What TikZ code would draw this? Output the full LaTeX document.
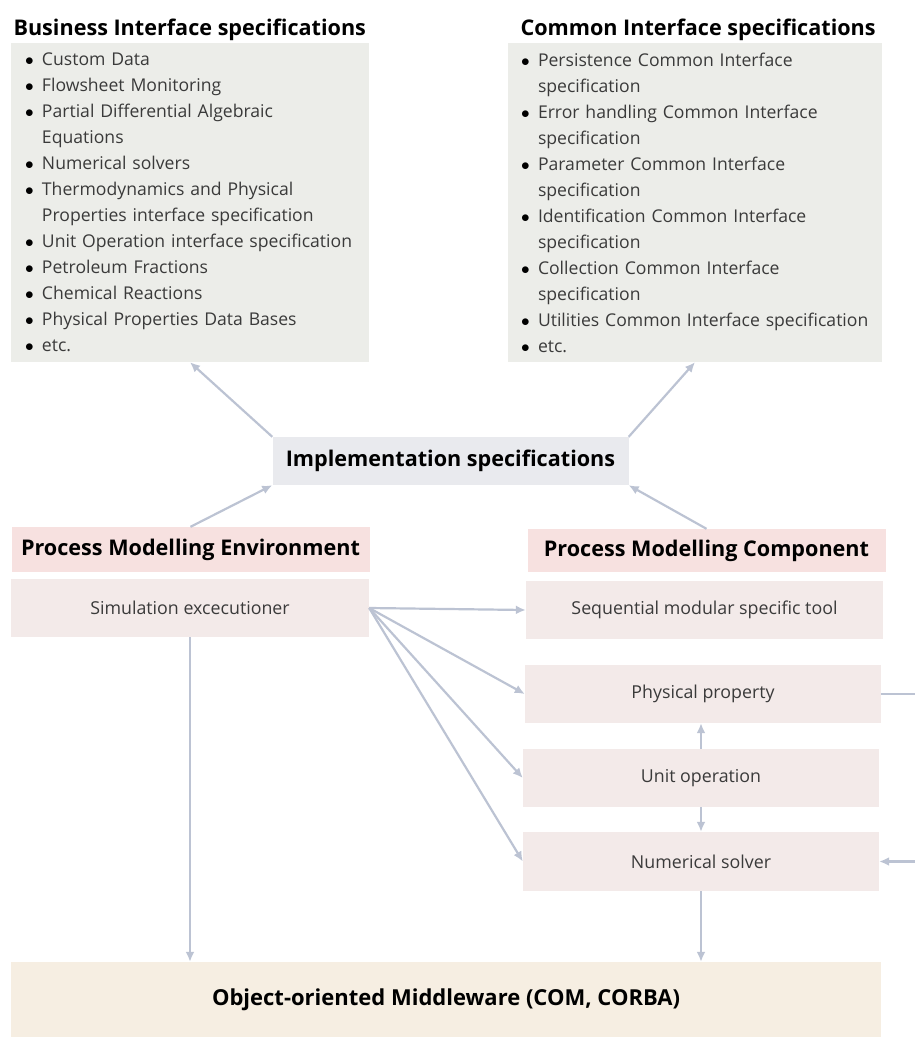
\documentclass[tikz,border=0pt]{standalone}
\usepackage{fontspec}
\setmainfont{Open Sans}
\usetikzlibrary{arrows.meta}

\definecolor{specfill}{HTML}{ECEDE9}
\definecolor{implfill}{HTML}{E9EAEE}
\definecolor{headfill}{HTML}{F7E1E0}
\definecolor{partfill}{HTML}{F3EAE9}
\definecolor{mwfill}{HTML}{F6EEE2}
\definecolor{linkcol}{HTML}{BCC3D3}
\definecolor{bodytxt}{HTML}{3A3A3A}

\newcommand{\bl}{\makebox[17pt][l]{\color{black}$\bullet$}}
\newcommand{\ind}{\hspace*{17pt}}

\begin{document}
\begin{tikzpicture}[x=1pt, y=-1pt,
    titletxt/.style={font=\fontsize{21.6}{26}\selectfont\bfseries, text=black},
    specbox/.style={fill=specfill, inner xsep=14pt, align=left, text=bodytxt,
      font=\fontsize{17.6}{26}\selectfont, minimum height=319pt},
    headbox/.style={fill=headfill, titletxt, minimum width=358pt},
    partbox/.style={fill=partfill, text=bodytxt, font=\fontsize{17.8}{22}\selectfont,
      minimum width=357pt, minimum height=58pt},
    link/.style={draw=linkcol, line width=2.2pt, -{Latex[length=10pt,width=9pt]}}]
      \useasboundingbox (0,0) rectangle (915,1037);

      % interface specifications
      \node[titletxt, anchor=base west] (bistitle) at (10,35) {Business Interface specifications};
      \node[titletxt, anchor=base west] (cistitle) at (517,35) {Common Interface specifications};

      \node[specbox, text width=330pt] (bis) at (190,202.5) {%
        \bl Custom Data\\
        \bl Flowsheet Monitoring\\
        \bl Partial Differential Algebraic\\
        \ind Equations\\
        \bl Numerical solvers\\
        \bl Thermodynamics and Physical\\
        \ind Properties interface specification\\
        \bl Unit Operation interface specification\\
        \bl Petroleum Fractions\\
        \bl Chemical Reactions\\
        \bl Physical Properties Data Bases\\
        \bl etc.};
      \node[specbox, inner xsep=13pt, text width=348pt] (cis) at (695,202.5) {%
        \bl Persistence Common Interface\\
        \ind specification\\
        \bl Error handling Common Interface\\
        \ind specification\\
        \bl Parameter Common Interface\\
        \ind specification\\
        \bl Identification Common Interface\\
        \ind specification\\
        \bl Collection Common Interface\\
        \ind specification\\
        \bl Utilities Common Interface specification\\
        \bl etc.};

      \node[fill=implfill, titletxt, minimum width=356pt, minimum height=48pt] (impl) at (450.5,461) {Implementation specifications};

      % process modelling
      \node[headbox, minimum height=45pt] (pme) at (190.5,549.5) {Process Modelling Environment};
      \node[headbox, minimum height=43pt] (pmc) at (706.5,550.5) {Process Modelling Component};

      \node[partbox, minimum width=358pt] (sim) at (190,608) {Simulation excecutioner};
      \node[partbox] (seq) at (704.5,610) {Sequential modular specific tool};
      \node[partbox, minimum width=356pt] (phys) at (703,694) {Physical property};
      \node[partbox, minimum width=356pt] (unit) at (701,778) {Unit operation};
      \node[partbox, minimum width=356pt, minimum height=59pt] (num) at (701,861.5) {Numerical solver};

      \node[fill=mwfill, titletxt, font=\fontsize{22}{26}\selectfont\bfseries, minimum width=870pt, minimum height=75pt] (mw) at (446,999.5) {Object-oriented Middleware (COM, CORBA)};

      \coordinate (physout) at (915,694);
      \coordinate (numin) at (915,861.5);

      \draw[link] (impl.north west) -- (bis.south);
      \draw[link] (impl.north east) -- (cis.south);
      \draw[link] (pme.north) -- (impl.south west);
      \draw[link] (pmc.north) -- (impl.south east);

      \draw[link] (sim.east) -- (seq.west);
      \draw[link] (sim.east) -- (phys.west);
      \draw[link] (sim.east) -- (unit.west);
      \draw[link] (sim.east) -- (num.west);

      \draw[link] (unit.north) -- (unit.north |- phys.south);
      \draw[link] (unit.south) -- (unit.south |- num.north);
      \draw[link, -] (phys.east) -- (physout);
      \draw[link] (numin) -- (num.east);

      \draw[link] (sim.south) -- (sim.south |- mw.north);
      \draw[link] (num.south) -- (num.south |- mw.north);
\end{tikzpicture}
\end{document}
